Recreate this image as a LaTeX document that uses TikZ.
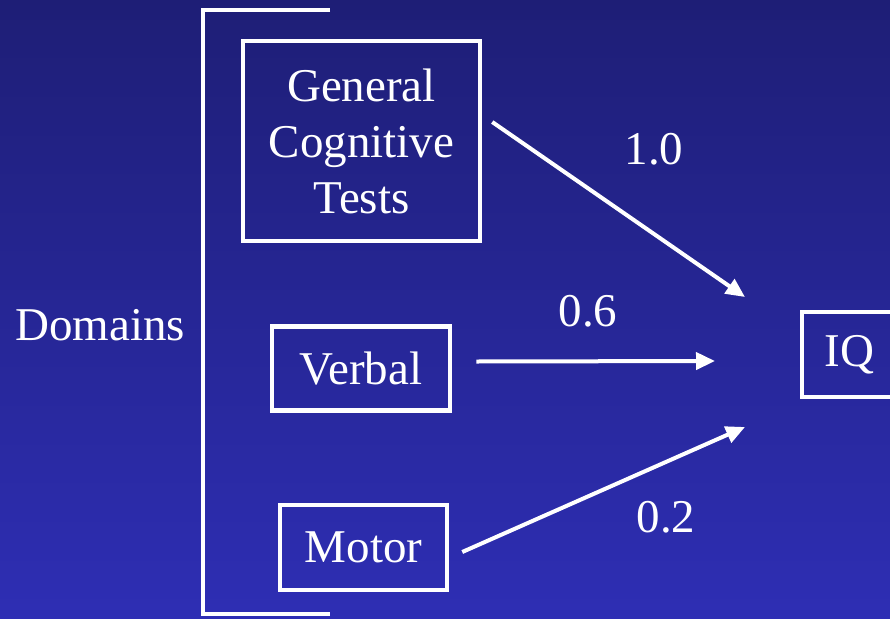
\documentclass[tikz,border=0pt]{standalone}
\usepackage{fontspec}
\setmainfont{Liberation Serif}
\usetikzlibrary{arrows.meta, positioning}
\definecolor{bgtop}{RGB}{30,30,118}
\definecolor{bgbottom}{RGB}{46,46,180}
\begin{document}
\begin{tikzpicture}[x=1pt, y=-1pt,
    box/.style={draw=white, line width=4.5pt, text=white, align=center, inner sep=0pt,
        font=\fontsize{47}{56}\selectfont},
    lbl/.style={text=white, font=\fontsize{47}{56}\selectfont},
    link/.style={draw=white, line width=4pt, -{Triangle[length=19pt, width=17pt]}}]
    \useasboundingbox (0,0) rectangle (890,618);
    \clip (0,0) rectangle (890,618);
    \shade[top color=bgtop, bottom color=bgbottom] (0,0) rectangle (890,618);

    % domain boxes
    \node[box, minimum width=237pt, minimum height=200pt] (gen) at (361.5,141) {General\\Cognitive\\Tests};
    \node[box, minimum width=178pt, minimum height=84pt] (verbal) at (361,368.5) {\raisebox{-2pt}{Verbal}};
    \node[box, minimum width=167pt, minimum height=85pt] (motor) at (363.5,547.5) {\raisebox{-2pt}{Motor}};
    \node[box, minimum width=95pt, minimum height=85pt] (iq) at (849.5,354.5) {\raisebox{-2pt}{IQ}};

    % bracket
    \coordinate (bt) at (330,10);
    \coordinate (bb) at (330,614);
    \draw[white, line width=4pt] (bt) -- (203,10) -- (203,614) -- (bb);
    \node[lbl] (domains) at (100,325) {Domains};

    % loadings
    \coordinate (t1) at (745,297);
    \coordinate (t2) at (715,361);
    \coordinate (t3) at (745,427);
    \draw[link] (gen.east) ++(10,-19) coordinate (s1) -- (t1);
    \draw[link] (verbal.east) ++(24,-7) coordinate (s2) -- (t2);
    \draw[link] (motor.east) ++(13,4.5) coordinate (s3) -- (t3);
    \node[lbl] (w1) at (654,149) {1.0};
    \node[lbl] (w2) at (588,311) {0.6};
    \node[lbl] (w3) at (666,517) {0.2};
\end{tikzpicture}
\end{document}
